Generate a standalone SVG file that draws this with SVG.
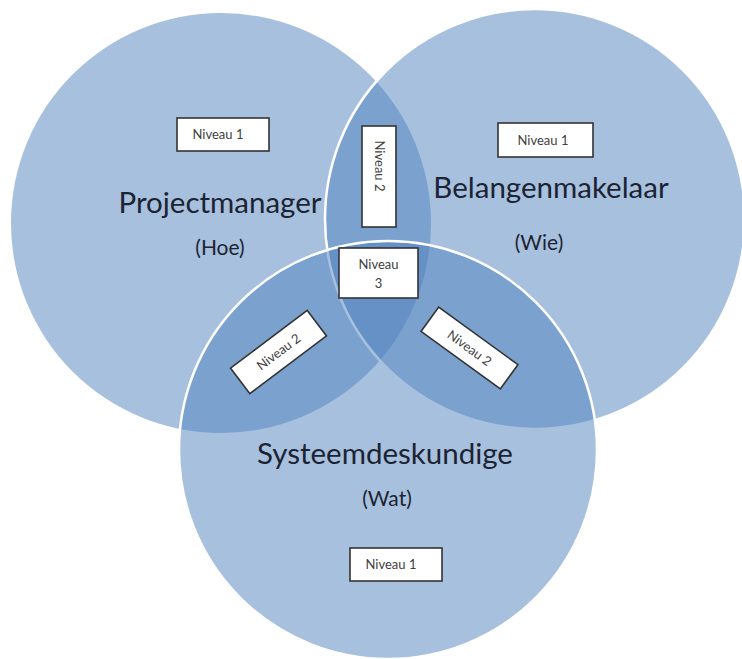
<svg xmlns="http://www.w3.org/2000/svg" width="742" height="659" viewBox="0 0 742 659">
  <style>
    .circ { fill: #4F81BD; fill-opacity: 0.5; }
    .edge { stroke: #ffffff; stroke-width: 2.5; }
    .big { font-family: Lato, "Open Sans", "Liberation Sans", sans-serif; font-size: 29.5px; fill: #1c2433; text-anchor: middle; }
    .sub { font-family: Lato, "Open Sans", "Liberation Sans", sans-serif; font-size: 21px; fill: #1c2433; text-anchor: middle; }
    .box { fill: #ffffff; stroke: #333333; stroke-width: 1.6; }
    .lvl { font-family: Lato, "Open Sans", "Liberation Sans", sans-serif; font-size: 13px; fill: #404040; text-anchor: middle; }
  </style>
  <rect x="0" y="0" width="742" height="659" fill="#ffffff"/>

  <g id="circle-projectmanager">
    <circle class="circ" cx="221" cy="223" r="210"/>
  </g>
  <g id="circle-belangenmakelaar">
    <circle class="circ edge" cx="535" cy="219" r="210"/>
  </g>
  <g id="circle-systeemdeskundige">
    <circle class="circ edge" cx="388" cy="450" r="209"/>
  </g>

  <g id="label-projectmanager">
    <text class="big" x="220" y="213">Projectmanager</text>
    <text class="sub" x="220" y="255">(Hoe)</text>
  </g>
  <g id="label-belangenmakelaar">
    <text class="big" x="551" y="198">Belangenmakelaar</text>
    <text class="sub" x="539" y="250">(Wie)</text>
  </g>
  <g id="label-systeemdeskundige">
    <text class="big" x="385" y="464">Systeemdeskundige</text>
    <text class="sub" x="387" y="506">(Wat)</text>
  </g>

  <g id="niveau1-left">
    <rect class="box" x="177" y="118" width="92" height="33"/>
    <text class="lvl" x="218" y="139">Niveau 1</text>
  </g>
  <g id="niveau1-right">
    <rect class="box" x="498" y="123" width="95" height="34"/>
    <text class="lvl" x="543" y="144.5">Niveau 1</text>
  </g>
  <g id="niveau1-bottom">
    <rect class="box" x="350" y="548" width="92" height="33"/>
    <text class="lvl" x="391" y="569">Niveau 1</text>
  </g>
  <g id="niveau2-top">
    <rect class="box" x="362" y="126" width="34" height="101"/>
    <text class="lvl" transform="translate(379,166) rotate(90)" x="0" y="4.5">Niveau 2</text>
  </g>
  <g id="niveau2-left">
    <g transform="translate(278.5,352) rotate(-37)">
      <rect class="box" x="-48" y="-16" width="96" height="32"/>
      <text class="lvl" x="0" y="4.5">Niveau 2</text>
    </g>
  </g>
  <g id="niveau2-right">
    <g transform="translate(469.5,348) rotate(36)">
      <rect class="box" x="-49" y="-15" width="98" height="30"/>
      <text class="lvl" x="0" y="4.5">Niveau 2</text>
    </g>
  </g>
  <g id="niveau3-center">
    <rect class="box" x="339" y="248" width="79" height="50"/>
    <text class="lvl" x="378.5" y="269">Niveau</text>
    <text class="lvl" x="378.5" y="288">3</text>
  </g>
</svg>
